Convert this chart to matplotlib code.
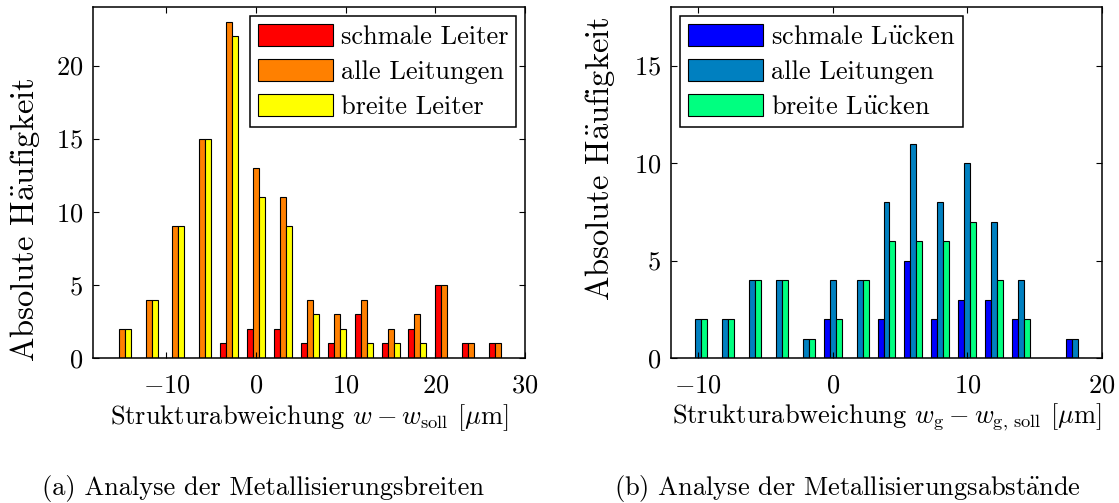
import matplotlib
matplotlib.use("Agg")
import matplotlib.pyplot as plt
import numpy as np

plt.rcParams.update({
    "font.family": "serif",
    "font.serif": ["cmr10"],
    "mathtext.fontset": "cm",
    "axes.formatter.use_mathtext": True,
    "font.size": 19,
    "axes.linewidth": 1.1,
    "xtick.direction": "in",
    "ytick.direction": "in",
    "xtick.top": True,
    "ytick.right": True,
    "xtick.major.size": 4,
    "ytick.major.size": 4,
    "xtick.major.width": 0.8,
    "ytick.major.width": 0.8,
    "figure.facecolor": "white",
})

# (a) line widths, bin centres in um
w_centers = np.arange(-15, 28, 3)
w_schmal = [0, 0, 0, 0, 1, 2, 2, 1, 1, 3, 1, 2, 5, 1, 1]
w_alle = [2, 4, 9, 15, 23, 13, 11, 4, 3, 4, 2, 3, 5, 1, 1]
w_breit = [2, 4, 9, 15, 22, 11, 9, 3, 2, 1, 1, 1, 0, 0, 0]
w_labels = ["schmale Leiter", "alle Leitungen", "breite Leiter"]
w_colors = ["#ff0000", "#ff8000", "#ffff00"]

# (b) gap widths, bin centres in um
g_centers = np.arange(-10, 19, 2)
g_schmal = [0, 0, 0, 0, 0, 2, 0, 2, 5, 2, 3, 3, 2, 0, 1]
g_alle = [2, 2, 4, 4, 1, 4, 4, 8, 11, 8, 10, 7, 4, 0, 1]
g_breit = [2, 2, 4, 4, 1, 2, 4, 6, 6, 6, 7, 4, 2, 0, 0]
g_labels = [r"schmale L$\ddot{\rm u}$cken", "alle Leitungen", r"breite L$\ddot{\rm u}$cken"]
g_colors = ["#0000ff", "#0080c0", "#00ff80"]

ylabel = r"Absolute H$\ddot{\rm a}$ufigkeit"

W, H = 1119, 503


def grouped_bars(ax, centers, series, labels, colors):
    step = centers[1] - centers[0]
    bw = step * 2 / 9
    for i, (vals, lab, col) in enumerate(zip(series, labels, colors)):
        ax.bar(centers + (i - 1) * bw, vals, width=bw, color=col,
               edgecolor="black", linewidth=0.8, label=lab)


def style_legend(ax, loc):
    leg = ax.legend(loc=loc, fancybox=False, framealpha=1, edgecolor="black",
                    handlelength=2.85, handleheight=0.95, handletextpad=0.3,
                    labelspacing=0.36, borderpad=0.3, borderaxespad=0.33,
                    fontsize=19)
    leg.get_frame().set_linewidth(1.1)


def style_axes(ax):
    ax.tick_params(axis="x", pad=11)
    ax.tick_params(axis="y", pad=7)


fig = plt.figure(figsize=(W / 100, H / 100), dpi=100)

ax1 = fig.add_axes([93 / W, 1 - 358 / H, 432 / W, 351 / H])
grouped_bars(ax1, w_centers, [w_schmal, w_alle, w_breit], w_labels, w_colors)
ax1.set_xlim(-18.2, 30)
ax1.set_ylim(0, 24)
ax1.set_xticks([-10, 0, 10, 20, 30])
ax1.set_yticks([0, 5, 10, 15, 20])
style_axes(ax1)
ax1.set_xlabel(r"Strukturabweichung $w - w_{\rm soll}$ [$\mu$m]", va="center")
ax1.xaxis.set_label_coords(0.5, -0.17)
ax1.set_ylabel(ylabel, va="center", fontsize=23.5)
ax1.yaxis.set_label_coords(-0.157, 0.393)
style_legend(ax1, "upper right")

ax2 = fig.add_axes([671 / W, 1 - 358 / H, 431 / W, 351 / H])
grouped_bars(ax2, g_centers, [g_schmal, g_alle, g_breit], g_labels, g_colors)
ax2.set_xlim(-12, 20)
ax2.set_ylim(0, 18)
ax2.set_xticks([-10, 0, 10, 20])
ax2.set_yticks([0, 5, 10, 15])
style_axes(ax2)
ax2.set_xlabel(r"Strukturabweichung $w_{\rm g} - w_{\rm g,\,soll}$ [$\mu$m]", va="center")
ax2.xaxis.set_label_coords(0.5, -0.17)
ax2.set_ylabel(ylabel, va="center", fontsize=23.5)
ax2.yaxis.set_label_coords(-0.165, 0.567)
style_legend(ax2, "upper left")

fig.text(263 / W, 1 - 489 / H, "(a) Analyse der Metallisierungsbreiten",
         ha="center", va="center")
fig.text(847 / W, 1 - 489 / H, r"(b) Analyse der Metallisierungsabst$\ddot{\rm a}$nde",
         ha="center", va="center")

fig.savefig("out.png", dpi=100)
